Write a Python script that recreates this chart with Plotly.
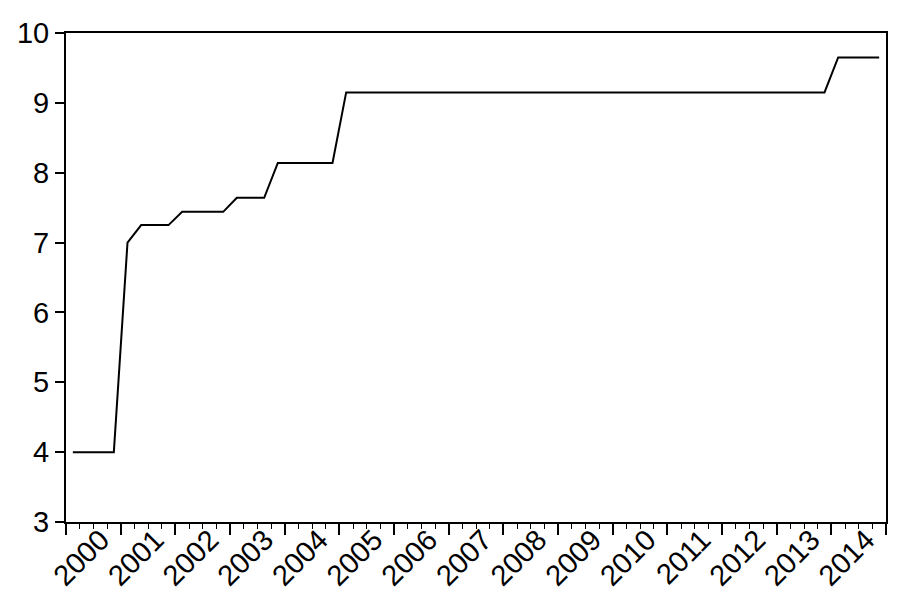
import plotly.graph_objects as go

# Quarterly observations 2000Q1 .. 2014Q4
years = list(range(2000, 2015))
quarters = [f"{y}Q{q}" for y in years for q in range(1, 5)]
values = ([4.0] * 4 + [7.0] + [7.25] * 3 + [7.44] * 4 + [7.64] * 3 +
          [8.14] * 5 + [9.15] * 36 + [9.65] * 4)
year_labels = [str(y) for y in years]
y_ticks = [3, 4, 5, 6, 7, 8, 9, 10]

idx = list(range(len(quarters)))
FONT = "Liberation Sans, Arial, sans-serif"
FS = 29

fig = go.Figure()
fig.add_trace(go.Scatter(x=idx, y=values, mode="lines",
                         line=dict(color="black", width=2),
                         text=quarters, hoverinfo="text+y",
                         showlegend=False))
# invisible trace for label axis
fig.add_trace(go.Scatter(x=[idx[0], idx[-1]], y=[values[0], values[-1]],
                         xaxis="x2", mode="lines", line=dict(width=0),
                         hoverinfo="skip", showlegend=False, opacity=0))

n = len(quarters)
year_bounds = [-0.5 + 4 * k for k in range(len(years) + 1)]
label_offset = 2.55

fig.update_layout(
    width=909, height=606,
    margin=dict(l=58, r=31, t=25, b=92),
    paper_bgcolor="white", plot_bgcolor="white",
    font=dict(family=FONT, size=FS, color="black"),
    xaxis=dict(range=[-0.5, n - 0.5], tickmode="array", tickvals=year_bounds,
               showticklabels=False, ticks="outside", ticklen=11, tickwidth=1.6,
               tickcolor="black", showgrid=False, zeroline=False, automargin=False,
               showline=True, linecolor="black", linewidth=2, mirror=True,
               minor=dict(tickmode="linear", tick0=-0.5, dtick=1, ticks="outside",
                          ticklen=5, tickwidth=1.4, tickcolor="black", showgrid=False)),
    xaxis2=dict(range=[-0.5, n - 0.5], overlaying="x", side="bottom",
                tickmode="array",
                tickvals=[4 * k + label_offset - 0.5 for k in range(len(years))],
                ticktext=year_labels, tickangle=-45, ticks="", showline=False,
                showgrid=False, zeroline=False, anchor="free", position=0.012,
                automargin=False,
                tickfont=dict(family=FONT, size=FS, color="black")),
    yaxis=dict(range=[3, 10], tickmode="array", tickvals=y_ticks,
               ticks="outside", ticklen=9, tickwidth=1.6, tickcolor="black",
               showgrid=False, zeroline=False, showline=True, linecolor="black",
               linewidth=2, mirror=True, automargin=False,
               tickfont=dict(family=FONT, size=FS, color="black")),
)

fig.write_html("out.html")
